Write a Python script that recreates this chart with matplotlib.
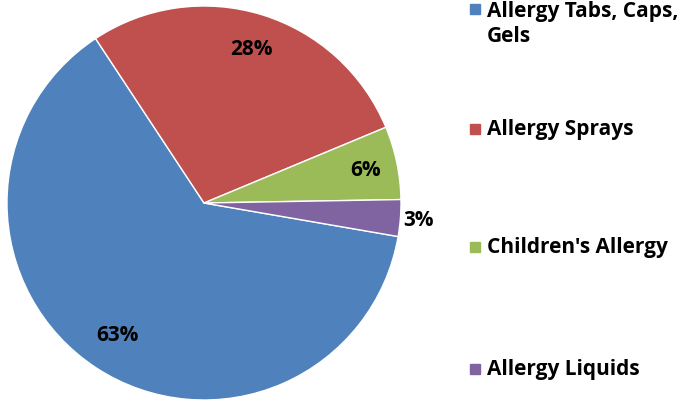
import numpy as np
import matplotlib
matplotlib.use("Agg")
import matplotlib.pyplot as plt
from matplotlib.patches import Rectangle

categories = ["Allergy Tabs, Caps, Gels", "Allergy Sprays", "Children's Allergy", "Allergy Liquids"]
values = [63, 28, 6, 3]
labels = ["63%", "28%", "6%", "3%"]
colors = ["#4F81BD", "#C0504D", "#9BBB59", "#8064A2"]

plt.rcParams['font.family'] = ['Open Sans', 'DejaVu Sans']

W, H = 682, 402
fig = plt.figure(figsize=(W / 100, H / 100), dpi=100)
cx, cy, r = 204, 204, 197
ax = fig.add_axes([(cx - r) / W, (H - cy - r) / H, 2 * r / W, 2 * r / H])
wedges, _ = ax.pie(values, colors=colors, startangle=-9.8, counterclock=False,
                   radius=1.0, wedgeprops=dict(edgecolor='white', linewidth=1.0))
ax.set_xlim(-1, 1)
ax.set_ylim(-1, 1)
ax.set_aspect('equal')
ax.axis('off')

dists = [0.80, 0.82, 0.84, 1.09]
for w, lab, d in zip(wedges, labels, dists):
    th = np.deg2rad((w.theta1 + w.theta2) / 2)
    ax.text(d * np.cos(th), d * np.sin(th), lab, ha='center', va='center',
            fontsize=15, fontweight='bold', color='black')

# legend
legend_y = [24, 130, 248, 370]
square_y = [10, 130, 248, 370]
for cat, col, ty, sy in zip(categories, colors, legend_y, square_y):
    txt = cat.replace("Caps, ", "Caps,\n")
    fig.patches.append(Rectangle(((470) / W, (H - sy - 5) / H), 10 / W, 10 / H,
                                 transform=fig.transFigure, color=col, figure=fig))
    fig.text(487 / W, (H - ty) / H, txt, ha='left', va='center', fontsize=15,
             fontweight='bold', linespacing=1.2, color='black')

fig.savefig("out.png", dpi=100)
